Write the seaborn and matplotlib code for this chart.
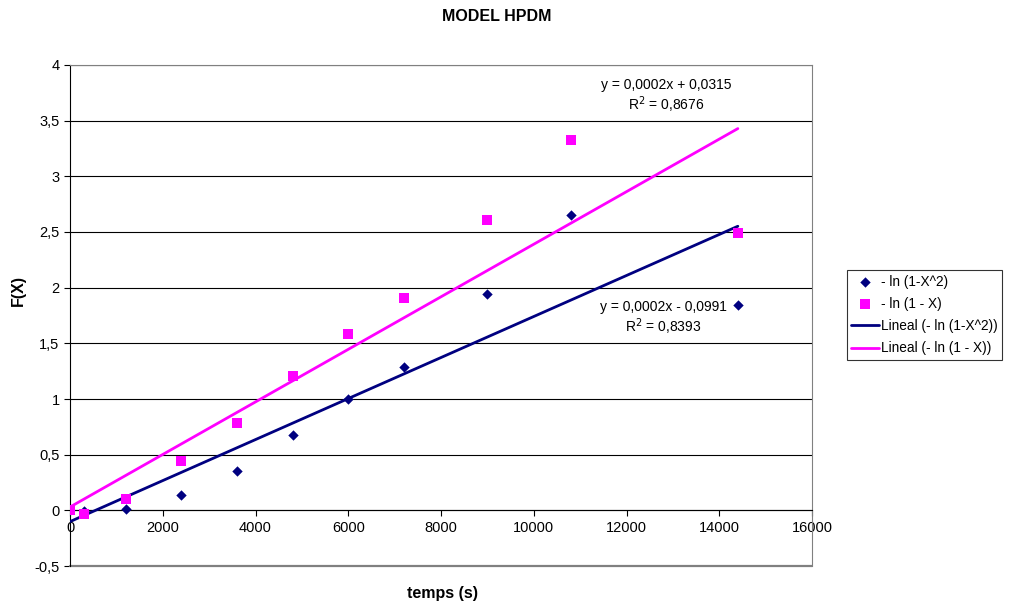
import numpy as np
import pandas as pd
import seaborn as sns
import matplotlib.pyplot as plt
from matplotlib.ticker import FuncFormatter, MultipleLocator

temps = [0, 300, 1200, 2400, 3600, 4800, 6000, 7200, 9000, 10800, 14400]
ln_1_x2 = [0.0, -0.01, 0.01, 0.135, 0.35, 0.68, 1.0, 1.29, 1.94, 2.65, 1.84]
ln_1_x = [0.0, -0.03, 0.1, 0.44, 0.78, 1.21, 1.58, 1.91, 2.61, 3.33, 2.49]

lbl_a = "- ln (1-X^2)"
lbl_b = "- ln (1 - X)"
navy = "#000080"
magenta = "#FF00FF"

sns.set_style("white")
plt.rcParams["font.family"] = ["Liberation Sans", "DejaVu Sans"]
plt.rcParams["text.color"] = "black"
plt.rcParams["axes.labelcolor"] = "black"

fig = plt.figure(figsize=(10.09, 6.07), dpi=100)
ax = fig.add_axes([0.0694, 0.0675, 0.7354, 0.8255])

df = pd.DataFrame({"t": temps, "a": ln_1_x2, "b": ln_1_x})

sns.scatterplot(data=df, x="t", y="a", marker="D", s=28, color=navy,
                edgecolor=navy, linewidth=0, label=lbl_a, ax=ax, zorder=4)
sns.scatterplot(data=df, x="t", y="b", marker="s", s=45, color=magenta,
                edgecolor=magenta, linewidth=0, label=lbl_b, ax=ax, zorder=4)

# linear trendlines from the data
xs = np.array([min(temps), max(temps)])
for col, colour, name in [("a", navy, lbl_a), ("b", magenta, lbl_b)]:
    k, c = np.polyfit(df["t"], df[col], 1)
    fit = pd.DataFrame({"t": xs, "y": k * xs + c})
    sns.lineplot(data=fit, x="t", y="y", color=colour, linewidth=2,
                 label=f"Lineal ({name})", ax=ax, zorder=3)

ax.set_xlim(0, 16000)
ax.set_ylim(-0.5, 4)
ax.xaxis.set_major_locator(MultipleLocator(2000))
ax.yaxis.set_major_locator(MultipleLocator(0.5))
ax.yaxis.set_major_formatter(FuncFormatter(lambda v, p: f"{v:g}".replace(".", ",")))
ax.xaxis.set_major_formatter(FuncFormatter(lambda v, p: f"{v:.0f}"))
ax.grid(axis="y", color="black", linewidth=0.8)
ax.set_axisbelow(True)

ax.spines["bottom"].set_position(("data", 0))
ax.spines["bottom"].set_color("black")
ax.spines["left"].set_color("black")
for s in ["top", "right"]:
    ax.spines[s].set_color("#808080")
ax.axhline(-0.5, color="#808080", linewidth=1.6, clip_on=False)
ax.tick_params(axis="both", direction="out", length=4, width=0.8,
               labelsize=10.5, colors="black", bottom=True, left=True)

ax.set_xlabel("")
ax.set_ylabel("")
fig.text(0.439, 0.023, "temps (s)", ha="center", va="center",
         fontsize=11.5, fontweight="bold")
fig.text(0.018, 0.522, "F(X)", ha="center", va="center", rotation=90,
         fontsize=11.5, fontweight="bold")
fig.text(0.492, 0.972, "MODEL HPDM", ha="center", va="center",
         fontsize=11.5, fontweight="bold")

ax.text(12850, 3.82, "y = 0,0002x + 0,0315", ha="center", va="center", fontsize=10)
ax.text(12850, 3.64, "R$^2$ = 0,8676", ha="center", va="center", fontsize=10)
ax.text(12800, 1.83, "y = 0,0002x - 0,0991", ha="center", va="center", fontsize=10)
ax.text(12800, 1.645, "R$^2$ = 0,8393", ha="center", va="center", fontsize=10)

leg = ax.legend(loc="center left", bbox_to_anchor=(0.839, 0.481),
                bbox_transform=fig.transFigure, frameon=True, fancybox=False,
                edgecolor="black", fontsize=9.8, handlelength=2.0,
                handletextpad=0.15, borderpad=0.35, labelspacing=0.6,
                borderaxespad=0)
leg.get_frame().set_linewidth(0.8)

fig.savefig("out.png", dpi=100, facecolor="white")
